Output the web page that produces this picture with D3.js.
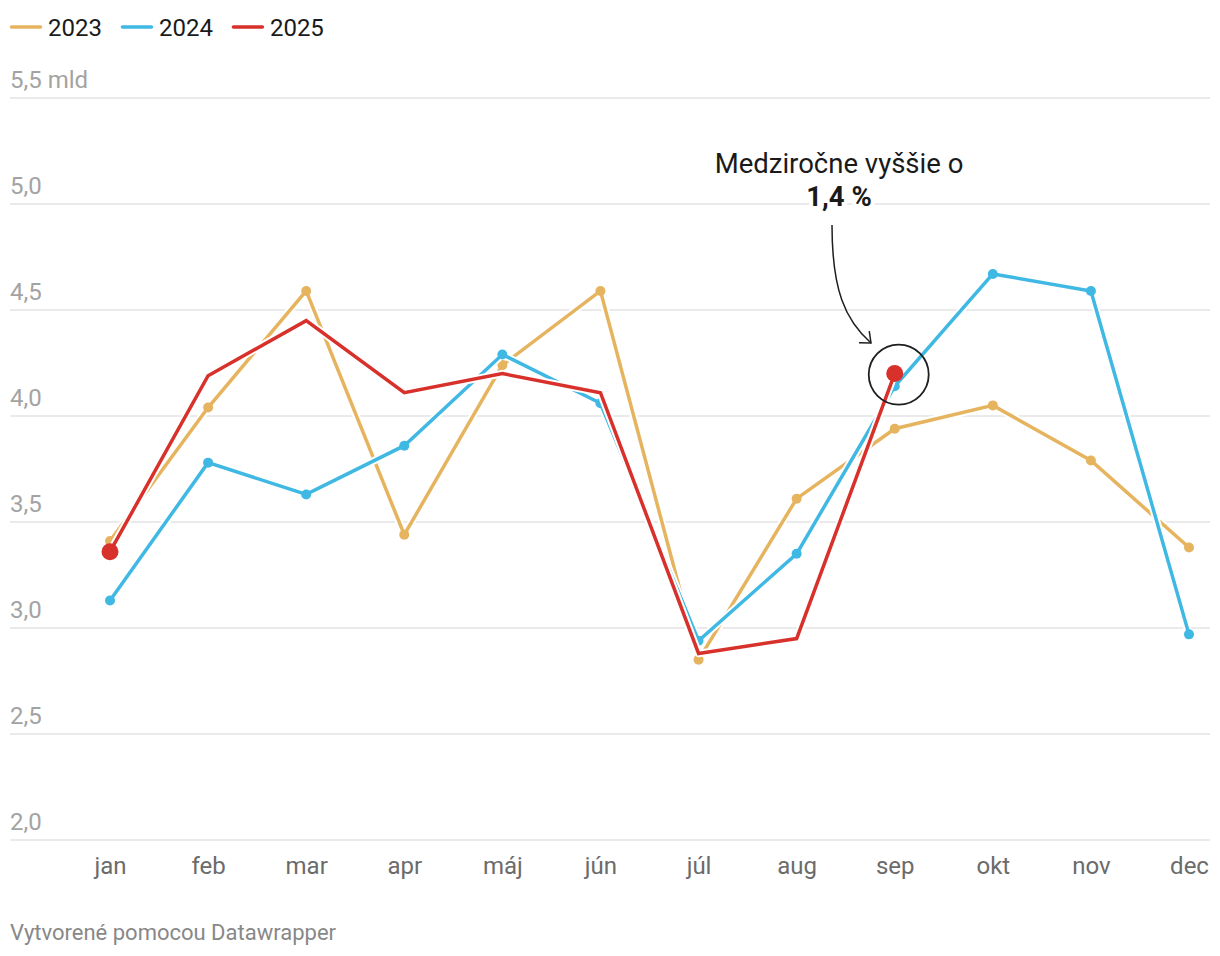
<!DOCTYPE html>
<html>
<head>
<meta charset="utf-8">
<script src="https://cdn.jsdelivr.net/npm/d3@7"></script>
<style>
    html, body { margin: 0; padding: 0; background: #fff; }
    svg { display: block; font-family: Roboto, "Noto Sans", sans-serif; }
</style>
</head>
<body>
<div id="chart"></div>
<script>
// Dáta z grafu (mld)
const months = ["jan", "feb", "mar", "apr", "máj", "jún", "júl", "aug", "sep", "okt", "nov", "dec"];
const values2023 = [3.41, 4.04, 4.59, 3.44, 4.24, 4.59, 2.85, 3.61, 3.94, 4.05, 3.79, 3.38];
const values2024 = [3.13, 3.78, 3.63, 3.86, 4.29, 4.06, 2.94, 3.35, 4.14, 4.67, 4.59, 2.97];
const values2025 = [3.36, 4.19, 4.45, 4.11, 4.20, 4.11, 2.88, 2.95, 4.20];
const yTicks = [2.0, 2.5, 3.0, 3.5, 4.0, 4.5, 5.0, 5.5];

const series = [
    { name: "2023", values: values2023, color: "#e6b45f", dots: "all" },
    { name: "2024", values: values2024, color: "#40b8e4", dots: "all" },
    { name: "2025", values: values2025, color: "#d8302a", dots: "ends" }
];

const width = 1220, height = 956;
const gridLeft = 10, gridRight = 1210;

const svg = d3.select("#chart")
    .append("svg")
    .attr("width", width)
    .attr("height", height);

// Škály
const x = d3.scalePoint()
    .domain(months)
    .range([110, 1189]);

const y = d3.scaleLinear()
    .domain([2, 5.5])
    .range([840, 98]);

const fmt = v => d3.format(".1f")(v).replace(".", ",");

// Mriežka a popisy osi Y
const grid = svg.append("g");
grid.selectAll("line")
    .data(yTicks)
    .enter().append("line")
    .attr("x1", gridLeft)
    .attr("x2", gridRight)
    .attr("y1", d => y(d))
    .attr("y2", d => y(d))
    .attr("stroke", "#e3e3e3")
    .attr("stroke-width", 1.5);

grid.selectAll("text")
    .data(yTicks)
    .enter().append("text")
    .attr("x", gridLeft)
    .attr("y", d => y(d) - 10)
    .attr("font-size", 24)
    .attr("fill", "#a3a3a3")
    .text(d => d === 5.5 ? fmt(d) + " mld" : fmt(d));

// Os X
const xAxis = svg.append("g")
    .attr("transform", "translate(0,874)")
    .call(d3.axisBottom(x).tickSize(0).tickPadding(0));
xAxis.select(".domain").remove();
xAxis.selectAll("text")
    .attr("dy", 0)
    .attr("y", 0)
    .attr("font-size", 24)
    .attr("font-family", "Roboto, sans-serif")
    .attr("fill", "#6b6b6b");

// Čiary
const line = d3.line()
    .x((d, i) => x(months[i]))
    .y(d => y(d));

series.forEach(s => {
    const g = svg.append("g");
    g.append("path")
        .datum(s.values)
        .attr("fill", "none")
        .attr("stroke", "#fff")
        .attr("stroke-width", 7.5)
        .attr("stroke-linejoin", "round")
        .attr("d", line);
    g.append("path")
        .datum(s.values)
        .attr("fill", "none")
        .attr("stroke", s.color)
        .attr("stroke-width", 3.5)
        .attr("stroke-linejoin", "miter")
        .attr("d", line);

    const pts = s.values.map((v, i) => ({ v, i }))
        .filter(p => s.dots === "all" || p.i === 0 || p.i === s.values.length - 1);
    g.selectAll("circle")
        .data(pts)
        .enter().append("circle")
        .attr("cx", p => x(months[p.i]))
        .attr("cy", p => y(p.v))
        .attr("r", s.dots === "all" ? 5 : 8.5)
        .attr("fill", s.color);
});

// Legenda
const legend = svg.append("g").attr("transform", "translate(10,27)");
let lx = 0;
series.forEach(s => {
    const item = legend.append("g").attr("transform", `translate(${lx},0)`);
    item.append("line")
        .attr("x1", 1.5).attr("x2", 30.5)
        .attr("stroke", s.color)
        .attr("stroke-width", 3.5)
        .attr("stroke-linecap", "round");
    const t = item.append("text")
        .attr("x", 38)
        .attr("y", 9)
        .attr("font-size", 24)
        .attr("fill", "#1a1a1a")
        .text(s.name);
    lx += 38 + t.node().getComputedTextLength() + 19;
});

// Anotácia
const sepX = x("sep"), sepY = y(values2025[8]);
const ann = svg.append("g");
ann.append("circle")
    .attr("cx", sepX + 4)
    .attr("cy", sepY + 1)
    .attr("r", 30)
    .attr("fill", "none")
    .attr("stroke", "#1f1f1f")
    .attr("stroke-width", 1.8);

const start = [832, 225], end = [871, 343];
const c1 = [832, 290], c2 = [845, 320];
const arrowPath = d3.path();
arrowPath.moveTo(start[0], start[1]);
arrowPath.bezierCurveTo(c1[0], c1[1], c2[0], c2[1], end[0], end[1]);
ann.append("path")
    .attr("d", arrowPath.toString())
    .attr("fill", "none")
    .attr("stroke", "#1f1f1f")
    .attr("stroke-width", 1.5);

const ang = Math.atan2(end[1] - c2[1], end[0] - c2[0]) + Math.PI;
const headLen = 12, spread = 0.7;
const head = d3.path();
head.moveTo(end[0] + headLen * Math.cos(ang - spread), end[1] + headLen * Math.sin(ang - spread));
head.lineTo(end[0], end[1]);
head.lineTo(end[0] + headLen * Math.cos(ang + spread), end[1] + headLen * Math.sin(ang + spread));
ann.append("path")
    .attr("d", head.toString())
    .attr("fill", "none")
    .attr("stroke", "#1f1f1f")
    .attr("stroke-width", 1.5);

const annText = ann.append("text")
    .attr("x", 839)
    .attr("text-anchor", "middle")
    .attr("font-size", 27.5)
    .attr("fill", "#1a1a1a")
    .attr("stroke", "#fff")
    .attr("stroke-width", 8)
    .attr("stroke-linejoin", "round")
    .attr("paint-order", "stroke");
annText.append("tspan").attr("x", 839).attr("y", 173).text("Medziročne vyššie o");
annText.append("tspan").attr("x", 839).attr("y", 206).attr("font-weight", "bold").text("1,4 %");

// Päta
svg.append("text")
    .attr("x", 10)
    .attr("y", 940)
    .attr("font-size", 22)
    .attr("fill", "#888")
    .text("Vytvorené pomocou Datawrapper");
</script>
</body>
</html>
